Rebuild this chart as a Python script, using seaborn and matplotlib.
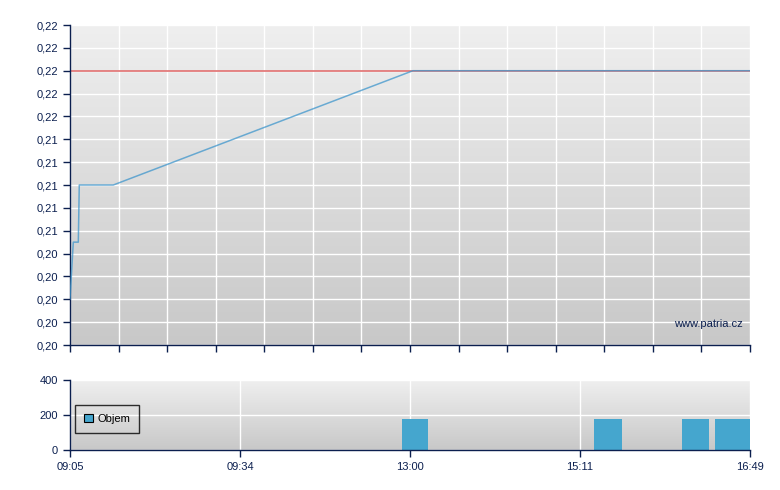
import numpy as np
import matplotlib
matplotlib.use("Agg")
import matplotlib.pyplot as plt
import seaborn as sns
import pandas as pd

# price line, x is the trade index position (axis is not linear in time)
price_x = [0, 0.068, 0.171, 0.191, 0.891, 7.06, 14]
price_y = [0.200, 0.205, 0.205, 0.210, 0.210, 0.220, 0.220]
ref_price = 0.220  # red reference line

# volume bars (left edge, width, value)
vol_left = [6.835, 10.79, 12.60, 13.28]
vol_width = [0.535, 0.576, 0.556, 0.72]
vol_vals = [180, 180, 180, 180]

time_ticks = [0, 3.5, 7, 10.5, 14]
time_labels = ["09:05", "09:34", "13:00", "15:11", "16:49"]
price_ticks = list(np.linspace(0.196, 0.224, 15))
vol_ticks = [0, 200, 400]

NAVY = "#0b1f4f"
BLUE = "#4aa3d2"
BAR_BLUE = "#45a6ce"

sns.set_theme(style="white")
plt.rcParams["font.family"] = ["Liberation Sans", "DejaVu Sans"]


def gradient_bg(ax, top="#efefef", bottom="#c8c8c8"):
    c1 = np.array(matplotlib.colors.to_rgb(bottom))
    c2 = np.array(matplotlib.colors.to_rgb(top))
    t = np.linspace(0, 1, 256)[:, None]
    img = (c1 + (c2 - c1) * t)[:, None, :]
    ax.imshow(img, extent=(0, 1, 0, 1), transform=ax.transAxes,
              origin="lower", aspect="auto", zorder=-1)


def style_axes(ax):
    for s in ["top", "right"]:
        ax.spines[s].set_visible(False)
    for s in ["left", "bottom"]:
        ax.spines[s].set_color(NAVY)
        ax.spines[s].set_linewidth(1)
    ax.tick_params(axis="both", colors=NAVY, labelcolor=NAVY, labelsize=8,
                   length=5, width=1, direction="out", bottom=True, left=True)
    ax.grid(True, color="white", linewidth=1)
    ax.set_axisbelow(True)


fig = plt.figure(figsize=(7.8, 4.9), dpi=100)
ax1 = fig.add_axes([70 / 780, 1 - 345 / 490, 680 / 780, 320 / 490])
ax2 = fig.add_axes([70 / 780, 1 - 450 / 490, 680 / 780, 70 / 490])

# price chart
gradient_bg(ax1)
ax1.axhline(ref_price, color="#e07070", linewidth=1.2, zorder=2)
df = pd.DataFrame({"x": price_x, "y": price_y})
sns.lineplot(data=df, x="x", y="y", ax=ax1, color="#3f96cc", linewidth=1.1,
             alpha=0.75, zorder=3, sort=False)
ax1.set_xlim(0, 14)
ax1.set_ylim(price_ticks[0], price_ticks[-1])
ax1.set_xticks(range(15))
ax1.set_xticklabels([])
ax1.set_yticks(price_ticks)
ax1.set_yticklabels([f"{v:.2f}".replace(".", ",") for v in price_ticks])
ax1.set_xlabel("")
ax1.set_ylabel("")
style_axes(ax1)
ax1.text(0.99, 0.067, "www.patria.cz", transform=ax1.transAxes, ha="right",
         va="center", color=NAVY, fontsize=8)

# volume chart
gradient_bg(ax2)
ax2.bar(vol_left, vol_vals, width=vol_width, align="edge", color=BAR_BLUE,
        edgecolor="none", linewidth=0, zorder=2, label="Objem")
ax2.set_xlim(0, 14)
ax2.set_ylim(0, 400)
ax2.set_xticks(time_ticks)
ax2.set_xticklabels(time_labels)
ax2.set_yticks(vol_ticks)
style_axes(ax2)
leg = ax2.legend(loc="upper left", bbox_to_anchor=(0.0074, 0.643), frameon=True,
                 fancybox=False, fontsize=8, handlelength=0.8, handleheight=0.8,
                 borderpad=0.8, borderaxespad=0, handletextpad=0.4,
                 labelcolor="black")
leg.get_frame().set_edgecolor("black")
leg.get_frame().set_facecolor("none")
leg.get_frame().set_linewidth(1)
for h in leg.legend_handles:
    h.set_edgecolor("black")
    h.set_linewidth(0.8)

fig.savefig("out.png", dpi=100)
